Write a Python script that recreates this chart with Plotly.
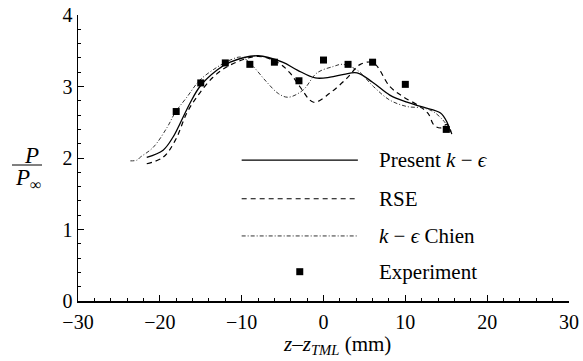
import plotly.graph_objects as go

# ---- data ----
present_x = [-21.6, -19.6, -18.4, -17.5, -16.3, -15.1, -13.0, -11.4, -8.0, -5.0, -3.2, -1.0, 0.8, 2.5, 4.1, 6.0, 8.1, 10.2, 12.2, 14.3, 15.1, 15.5]
present_y = [2.01, 2.11, 2.29, 2.49, 2.77, 3.00, 3.23, 3.34, 3.43, 3.34, 3.23, 3.12, 3.13, 3.17, 3.19, 3.06, 2.88, 2.78, 2.71, 2.63, 2.50, 2.36]

rse_x = [-21.6, -19.6, -18.1, -16.7, -15.5, -13.5, -11.4, -8.0, -5.5, -4.1, -2.9, -1.2, 0.8, 2.9, 4.5, 6.1, 8.1, 9.7, 11.8, 12.8, 13.5, 14.3, 15.1, 15.8]
rse_y = [1.92, 2.01, 2.25, 2.63, 2.85, 3.13, 3.30, 3.42, 3.33, 3.19, 3.00, 2.78, 2.91, 3.12, 3.31, 3.33, 3.00, 2.86, 2.72, 2.62, 2.46, 2.42, 2.47, 2.28]

chien_x = [-23.6, -22.8, -22.4, -20.8, -19.1, -18.1, -16.7, -15.1, -13.0, -11.4, -10.0, -8.6, -7.0, -5.5, -4.3, -2.5, -0.8, 1.2, 2.3, 4.1, 6.1, 8.1, 10.2, 12.2, 13.4, 14.6, 15.5]
chien_y = [1.96, 1.97, 2.01, 2.15, 2.43, 2.64, 2.85, 3.09, 3.27, 3.37, 3.41, 3.28, 3.07, 2.90, 2.85, 2.95, 3.19, 3.28, 3.31, 3.23, 3.00, 2.81, 2.72, 2.70, 2.65, 2.53, 2.39]

exp_x = [-18, -15, -12, -9, -6, -3, 0, 3, 6, 10, 15]
exp_y = [2.65, 3.05, 3.33, 3.31, 3.34, 3.08, 3.37, 3.31, 3.34, 3.03, 2.40]

legend_names = ["Present <i>k</i> − <i>ϵ</i>", "RSE", "<i>k</i> − <i>ϵ</i> Chien", "Experiment"]

FONT = "Liberation Serif, Times New Roman, DejaVu Serif, serif"
FS = 20

fig = go.Figure()
fig.add_trace(go.Scatter(x=present_x, y=present_y, mode="lines", line=dict(color="black", width=1.3, shape="spline", smoothing=1.0), showlegend=False))
fig.add_trace(go.Scatter(x=rse_x, y=rse_y, mode="lines", line=dict(color="black", width=1.2, dash="5px,4px", shape="spline", smoothing=1.0), showlegend=False))
fig.add_trace(go.Scatter(x=chien_x, y=chien_y, mode="lines", line=dict(color="#333", width=1.0, dash="4px,2px,1px,2px", shape="spline", smoothing=1.0), showlegend=False))
fig.add_trace(go.Scatter(x=exp_x, y=exp_y, mode="markers", marker=dict(symbol="square", size=7, color="black"), showlegend=False))

# ---- manual legend ----
leg_rows = [1.97, 1.43, 0.91, 0.41]
styles = [dict(color="black", width=1.3), dict(color="black", width=1.2, dash="5px,4px"), dict(color="#333", width=1.0, dash="4px,2px,1px,2px")]
for yy, st in zip(leg_rows[:3], styles):
    fig.add_shape(type="line", xref="x", yref="y", x0=-10, x1=4.2, y0=yy, y1=yy, line=st)
fig.add_shape(type="rect", xref="x", yref="y", xsizemode="pixel", ysizemode="pixel",
              xanchor=-2.9, yanchor=leg_rows[3], x0=-3.5, x1=3.5, y0=-3.5, y1=3.5,
              fillcolor="black", line=dict(width=0))
for yy, name in zip(leg_rows, legend_names):
    fig.add_annotation(x=6.5, y=yy, xref="x", yref="y", text=name, showarrow=False,
                       xanchor="left", yanchor="middle", font=dict(family=FONT, size=21, color="black"))

# ---- y-axis label as fraction ----
fig.add_annotation(x=0, xref="paper", xshift=-47, y=(301-155)/286, yref="paper", text="<i>P</i>", showarrow=False,
                   xanchor="center", yanchor="middle", font=dict(family=FONT, size=23, color="black"))
fig.add_shape(type="line", xref="paper", yref="paper", x0=(12-78)/491, x1=(42-78)/491,
              y0=(301-165)/286, y1=(301-165)/286, line=dict(color="black", width=1))
fig.add_annotation(x=0, xref="paper", xshift=-50, y=(301-179)/286, yref="paper", text="<i>P</i><sub>∞</sub>", showarrow=False,
                   xanchor="center", yanchor="middle", font=dict(family=FONT, size=23, color="black"))

# ---- x-axis title ----
fig.add_annotation(x=(337-78)/491, xref="paper", y=(301-345)/286, yref="paper",
                   text="<i>z</i>–<i>z</i><sub><i>TML</i></sub> (mm)", showarrow=False,
                   xanchor="center", yanchor="middle", font=dict(family=FONT, size=21, color="black"))

axis_common = dict(showgrid=False, zeroline=False, showline=True, linecolor="black", linewidth=1.5,
                   ticks="inside", ticklen=6, tickwidth=1, tickcolor="black", automargin=False,
                   tickfont=dict(family=FONT, size=FS, color="black"))
fig.update_xaxes(range=[-30, 30], tick0=-30, dtick=10, ticklabelstandoff=2,
                 minor=dict(dtick=2, ticks="inside", ticklen=3, tickcolor="black"), **axis_common)
fig.update_yaxes(range=[0, 4], tick0=0, dtick=1,
                 minor=dict(dtick=0.2, ticks="inside", ticklen=3, tickcolor="black"), **axis_common)

fig.update_layout(width=583, height=361, margin=dict(l=78, r=14, t=15, b=60, autoexpand=False),
                  plot_bgcolor="white", paper_bgcolor="white", showlegend=False,
                  font=dict(family=FONT, size=FS, color="black"))

fig.write_html("out.html", config={"displayModeBar": False, "staticPlot": True},
               post_script="document.body.style.margin='0';document.body.style.padding='0';")
